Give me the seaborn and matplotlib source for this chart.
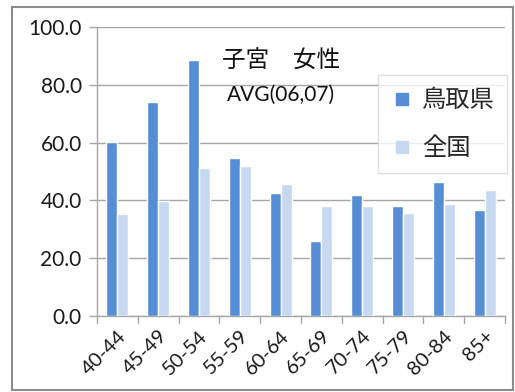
import matplotlib
matplotlib.use("Agg")
import matplotlib.pyplot as plt
import seaborn as sns
import pandas as pd
from matplotlib.patches import Rectangle
from matplotlib.lines import Line2D

categories = ["40-44", "45-49", "50-54", "55-59", "60-64", "65-69", "70-74", "75-79", "80-84", "85+"]
tottori = [60.3, 74.2, 88.6, 54.6, 42.5, 26.0, 42.0, 38.2, 46.5, 36.6]
national = [35.3, 39.8, 51.1, 52.0, 45.6, 38.2, 38.2, 35.7, 38.9, 43.6]
series_names = ["鳥取県", "全国"]
yticks = [0, 20, 40, 60, 80, 100]

df = pd.DataFrame({
    "age": categories * 2,
    "value": tottori + national,
    "series": [series_names[0]] * len(categories) + [series_names[1]] * len(categories),
})

sns.set_theme(style="white")
plt.rcParams["font.family"] = ["Lato", "Noto Sans CJK JP", "DejaVu Sans"]

colors = ["#558ED5", "#C6D9F1"]

fig = plt.figure(figsize=(5.15, 3.92), dpi=100)
ax = fig.add_axes([97/515, 1-316/392, (505-97)/515, (316-27)/392])

sns.barplot(data=df, x="age", y="value", hue="series", palette=colors, saturation=1,
            width=0.54, edgecolor="white", linewidth=1.0, ax=ax, legend=False,
            zorder=3)

ax.set_ylim(0, 100)
ax.set_xlim(-0.5, len(categories) - 0.5)
ax.set_yticks(yticks)
ax.set_yticklabels([f"{v:.1f}" for v in yticks], fontsize=15, color="#1a1a1a")
ax.set_xlabel("")
ax.set_ylabel("")
ax.yaxis.grid(True, color="#A6A6A6", linewidth=1.0, zorder=0)
ax.set_axisbelow(True)

# x ticks between categories
ax.set_xticks(range(len(categories)))
ax.set_xticklabels(categories, rotation=45, ha="right", rotation_mode="anchor",
                   fontsize=14.5, color="#1a1a1a")
ax.tick_params(axis="x", length=0, pad=8)
for i in range(len(categories) + 1):
    ax.plot([i - 0.5, i - 0.5], [0, -2.5], color="#A6A6A6", lw=1.0, clip_on=False)
ax.tick_params(axis="y", length=6, color="#A6A6A6", width=1.0, left=True, pad=5)

for s in ["top", "right"]:
    ax.spines[s].set_visible(False)
for s in ["left", "bottom"]:
    ax.spines[s].set_color("#A6A6A6")
    ax.spines[s].set_linewidth(1.0)

ax.text(0.45, 0.88, "子宮　女性", transform=ax.transAxes, ha="center", va="center",
        fontsize=17, family=["Noto Sans CJK JP", "DejaVu Sans"], color="#111111")
ax.text(0.45, 0.765, "AVG(06,07)", transform=ax.transAxes, ha="center", va="center",
        fontsize=15, color="#111111")

handles = [Line2D([0], [0], marker="s", linestyle="", markersize=8, markerfacecolor=c,
                  markeredgecolor=c) for c in colors]
leg = ax.legend(handles, series_names, loc="upper left", bbox_to_anchor=(378/515, 1-75/392),
                bbox_transform=fig.transFigure, frameon=True, fancybox=False,
                borderaxespad=0, handletextpad=0.3, handlelength=1.0, labelspacing=0.9,
                borderpad=0.5,
                prop={"family": ["Noto Sans CJK JP", "DejaVu Sans"], "size": 17.5})
leg.get_frame().set_edgecolor("#D9D9D9")
leg.get_frame().set_linewidth(1.0)

fig.patches.append(Rectangle((12/515, 1-390/392), (513-12)/515, (390-7)/392,
                             transform=fig.transFigure, fill=False,
                             edgecolor="#8C8C8C", linewidth=1.5))

fig.savefig("out.png", dpi=100)
